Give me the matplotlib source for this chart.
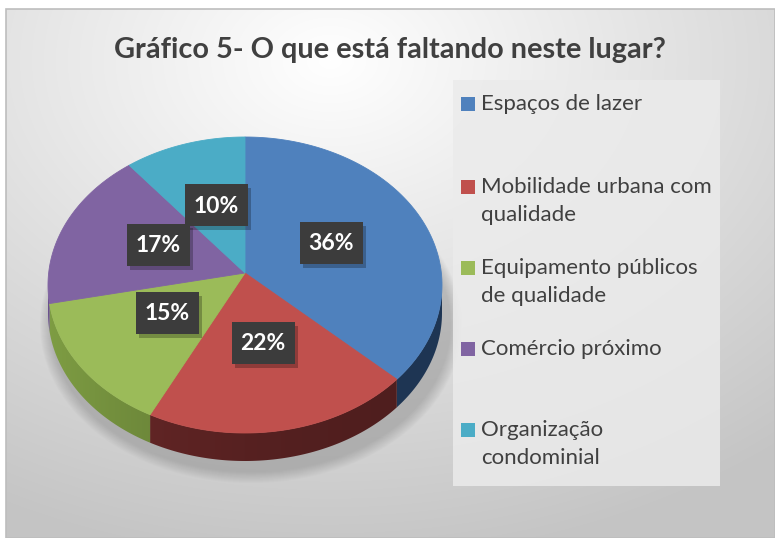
import numpy as np
import matplotlib.pyplot as plt
from matplotlib.patches import Polygon, Rectangle, Ellipse
from matplotlib.colors import to_rgb

# data
labels = ["Espaços de lazer", "Mobilidade urbana com\nqualidade",
          "Equipamento públicos\nde qualidade", "Comércio próximo",
          "Organização\ncondominial"]
values = [36, 22, 15, 17, 10]
colors = ["#4f81bd", "#c0504d", "#9bbb59", "#8064a2", "#4bacc6"]
side_colors = ["#1e3553", "#4f1e1e", "#5a7030", "#4d3a66", "#2e6d7e"]
title = "Gráfico 5- O que está faltando neste lugar?"

W, H = 775, 538
fig = plt.figure(figsize=(W / 100, H / 100), dpi=100)
ax = fig.add_axes([0, 0, 1, 1])
ax.set_xlim(0, W)
ax.set_ylim(H, 0)
ax.axis("off")

# background: radial grey gradient inside the chart frame
X, Y = np.meshgrid(np.arange(6, W), np.arange(9, H))
d = np.sqrt(((X - 330) / 1.25) ** 2 + ((Y - 60) / 0.9) ** 2)
g = np.clip(1.0 - d / 560 * 0.23, 0.77, 1.0)
ax.imshow(np.dstack([g, g, g]), extent=[6, W, H, 9], zorder=0, aspect="auto")
ax.add_patch(Rectangle((6, 9), W - 6, H - 9, fill=False, ec="#bdbdbd", lw=1.2, zorder=1))

# pie geometry
cx, cy, rx, ry = 245, 285, 197, 148
apex = (245, 273)
depth = 28

# soft shadow
for i in range(12):
    ax.add_patch(Ellipse((cx + 6, cy + depth + 12), 2 * (rx + 14 - i), 2 * (ry + 10 - i),
                         fc="#7a7a7a", ec="none", alpha=0.035, zorder=2))

def rim(t):
    t = np.radians(t)
    return cx + rx * np.sin(t), cy - ry * np.cos(t)

fracs = np.array(values) / sum(values)
starts = np.concatenate([[0], np.cumsum(fracs)[:-1]]) * 360
ends = np.cumsum(fracs) * 360

# sides (visible lower half, 90..270 degrees clockwise from top)
xs = np.linspace(0, 1, 200)
for s, e, sc in zip(starts, ends, side_colors):
    a0, a1 = max(s, 90), min(e, 270)
    if a1 <= a0:
        continue
    ts = np.linspace(a0, a1, 80)
    upper = [rim(t) for t in ts]
    lower = [(x, y + depth) for x, y in upper[::-1]]
    poly = Polygon(upper + lower, closed=True, fc="none", ec="none", zorder=3)
    ax.add_patch(poly)
    base = np.array(to_rgb(sc))
    shade = 1.0 + 0.4 * (1 - xs) ** 2
    grad = np.clip(base[None, None, :] * shade[None, :, None], 0, 1)
    im = ax.imshow(grad, extent=[cx - rx, cx + rx, cy + ry + depth + 2, cy - 5],
                   aspect="auto", zorder=3)
    im.set_clip_path(poly)

# top face
for s, e, c in zip(starts, ends, colors):
    ts = np.linspace(s, e, 100)
    pts = [apex] + [rim(t) for t in ts]
    ax.add_patch(Polygon(pts, closed=True, fc=c, ec=c, lw=0.6, zorder=4))

# data labels
for s, e, v in zip(starts, ends, values):
    m = np.radians((s + e) / 2)
    lx = apex[0] + 0.48 * rx * np.sin(m)
    ly = apex[1] - 0.48 * ry * np.cos(m)
    ax.add_patch(Rectangle((lx - 31 + 3, ly - 21 + 4), 63, 42, fc="#000000", alpha=0.25, ec="none", zorder=5))
    ax.add_patch(Rectangle((lx - 31, ly - 21), 63, 42, fc="#3c3c3c", ec="none", zorder=6))
    ax.text(lx, ly + 1, f"{v}%", color="white", fontsize=16.5, fontweight="bold",
            family="Lato", ha="center", va="center", zorder=7)

# title
ax.text(390, 50, title, ha="center", va="center", fontsize=20.8, fontweight="bold",
        family="Lato", color="#404040", zorder=7)

# legend
ax.add_patch(Rectangle((453, 80), 267, 406, fc="#ebebeb", ec="none", alpha=0.85, zorder=2))
leg_y = [104, 201, 282, 349, 444]
for lab, c, y in zip(labels, colors, leg_y):
    nlines = lab.count("\n") + 1
    top = y - (nlines - 1) * 14
    ax.add_patch(Rectangle((461, top - 7), 14, 14, fc=c, ec="none", zorder=6))
    ax.text(481, y, lab, ha="left", va="center", fontsize=16, family="Lato",
            color="#404040", linespacing=1.55, zorder=7)

fig.savefig("out.png", dpi=100)
